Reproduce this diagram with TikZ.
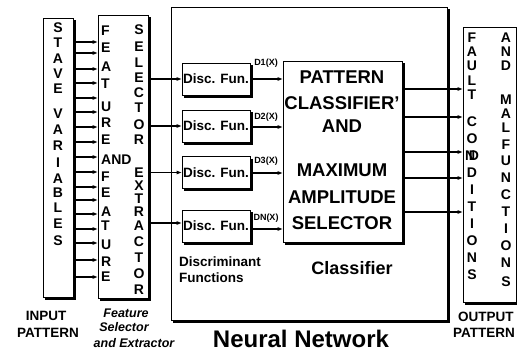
\documentclass[tikz,border=0pt]{standalone}
\usepackage{fontspec}
\setmainfont{Liberation Sans}
\usetikzlibrary{arrows.meta,calc}
\begin{document}
\begin{tikzpicture}[x=1pt,y=-1pt,
  frame/.style={draw, line width=0.9pt, inner sep=0pt, fill=white},
  shadeline/.style={line width=2.5pt},
  letter/.style={font=\fontsize{14}{14}\selectfont\bfseries, inner sep=0pt},
  arr/.style={line width=1.1pt, -{Triangle[length=5pt,width=3.4pt]}},
  discbox/.style={frame, minimum width=68, minimum height=32, font=\fontsize{13.5}{13.5}\selectfont\bfseries},
  dlabel/.style={font=\fontsize{9}{9}\selectfont\bfseries, inner sep=0pt},
  cltext/.style={font=\fontsize{18.5}{18.5}\selectfont\bfseries, inner sep=0pt},
  caption/.style={font=\fontsize{13.5}{13.5}\selectfont\bfseries, inner sep=0pt},
  itcaption/.style={font=\fontsize{12.5}{12.5}\selectfont\bfseries\itshape, inner sep=0pt},
]
\useasboundingbox (0,0) rectangle (517,353);
% boxes
\node[frame, minimum width=276, minimum height=313] (nn) at (309,163.5) {};
\node[frame, minimum width=30, minimum height=279] (sv) at (58,157.5) {};
\node[frame, minimum width=50, minimum height=283] (fe) at (123,156.5) {};
\node[discbox] (d1) at (216,79) {Disc. Fun.};
\node[discbox] (d2) at (216,126) {Disc. Fun.};
\node[discbox] (d3) at (216,172.5) {Disc. Fun.};
\node[discbox] (d4) at (216,226) {Disc. Fun.};
\node[frame, minimum width=119, minimum height=181] (cl) at (342.5,151.5) {};
\node[frame, minimum width=53, minimum height=275] (fa) at (489.5,164.5) {};
% shadows
\foreach \n in {nn,sv,fe,d1,d2,d3,d4,cl,fa}
  \draw[shadeline] ($(\n.north east)+(1.2,2.5)$) -- ($(\n.south east)+(1.2,1.2)$) -- ($(\n.south west)+(2.5,1.2)$);
% state variables letters
\foreach \l/\y [count=\i] in {S/28,T/43,A/59,V/74,E/89,V/114,A/130,R/146,I/163,A/179,B/193,L/208,E/224,S/241}
  \node[letter] (sl\i) at (58,\y) {\l};
% feature column
\foreach \l/\y [count=\i] in {F/31,E/48,A/67,T/84,U/107,R/123,E/140,AND/160,F/177,E/193,A/212,T/226,U/245,R/262,E/277}
  \node[letter, anchor=west] (fl\i) at (101,\y) {\l};
\foreach \l/\y [count=\i] in {S/30,E/47,L/63,E/78,C/93,T/108,O/125,R/140,E/173,X/186,T/199,R/212,A/226,C/242,T/258,O/274,R/290}
  \node[letter] (fr\i) at (139,\y) {\l};
% fault column
\foreach \l/\y [count=\i] in {F/38,A/52,U/66,L/81,T/95,C/122,O/139,N\kern-0.45em D/156,D/173,I/190,T/207,I/224,O/241,N/258,S/275}
  \node[letter] (ql\i) at (472,\y) {\l};
\foreach \l/\y [count=\i] in {A/38,N/52,D/66,M/100,A/114,L/128,F/145,U/161,N/178,C/195,T/212,I/229,O/246,N/263,S/282}
  \node[letter] (qr\i) at (506,\y) {\l};
% classifier text
\node[cltext] (c1) at (342,77) {PATTERN};
\node[cltext] (c2) at (342,103) {CLASSIFIER'};
\node[cltext] (c3) at (342,126) {AND};
\node[cltext] (c4) at (342,170) {MAXIMUM};
\node[cltext] (c5) at (342,197) {AMPLITUDE};
\node[cltext] (c6) at (342,223) {SELECTOR};
% D labels
\node[dlabel] (l1) at (266,63) {D1(X)};
\node[dlabel] (l2) at (266,117) {D2(X)};
\node[dlabel] (l3) at (266,161) {D3(X)};
\node[dlabel] (l4) at (266,218) {DN(X)};
% arrows state -> feature
\foreach \y in {42,53,69,83,98,112,127,142,157,172,187,200,214,229,243,260,277}
  \draw[arr] (sv.east |- 0,\y) -- (fe.west |- 0,\y);
% feature -> disc
\draw[arr] (fe.east |- d1.west) -- (d1.west);
\draw[arr] (fe.east |- d2.west) -- (d2.west);
\draw[arr] (fe.east |- d3.west) -- (d3.west);
\draw[arr] (fe.east |- 0,223) -- (d4.west |- 0,223);
% disc -> classifier
\draw[arr] (d1.east) -- (cl.west |- d1.east);
\draw[arr] (d2.east |- 0,127) -- (cl.west |- 0,127);
\draw[arr] (d3.east |- 0,173) -- (cl.west |- 0,173);
\draw[arr] (d4.east |- 0,229) -- (cl.west |- 0,229);
% classifier -> fault
\foreach \y in {89,117,152,178,212}
  \draw[arr] (cl.east |- 0,\y) -- (fa.west |- 0,\y);
% captions
\node[caption, anchor=west] (df1) at (179,262) {Discriminant};
\node[caption, anchor=west] (df2) at (179,278) {Functions};
\node[font=\fontsize{18}{18}\selectfont\bfseries, inner sep=0pt] (clf) at (352,268) {Classifier};
\node[font=\fontsize{24}{24}\selectfont\bfseries, inner sep=0pt] (nnl) at (301,339) {Neural Network};
\node[caption] (ip1) at (46,316) {INPUT};
\node[caption] (ip2) at (48,333) {PATTERN};
\node[itcaption] (fs1) at (126,313) {Feature};
\node[itcaption] (fs2) at (124,327) {Selector};
\node[itcaption] (fs3) at (134,343) {and Extractor};
\node[caption, anchor=west] (op1) at (458,317) {OUTPUT};
\node[caption, anchor=west] (op2) at (453,333) {PATTERN};
\end{tikzpicture}
\end{document}
